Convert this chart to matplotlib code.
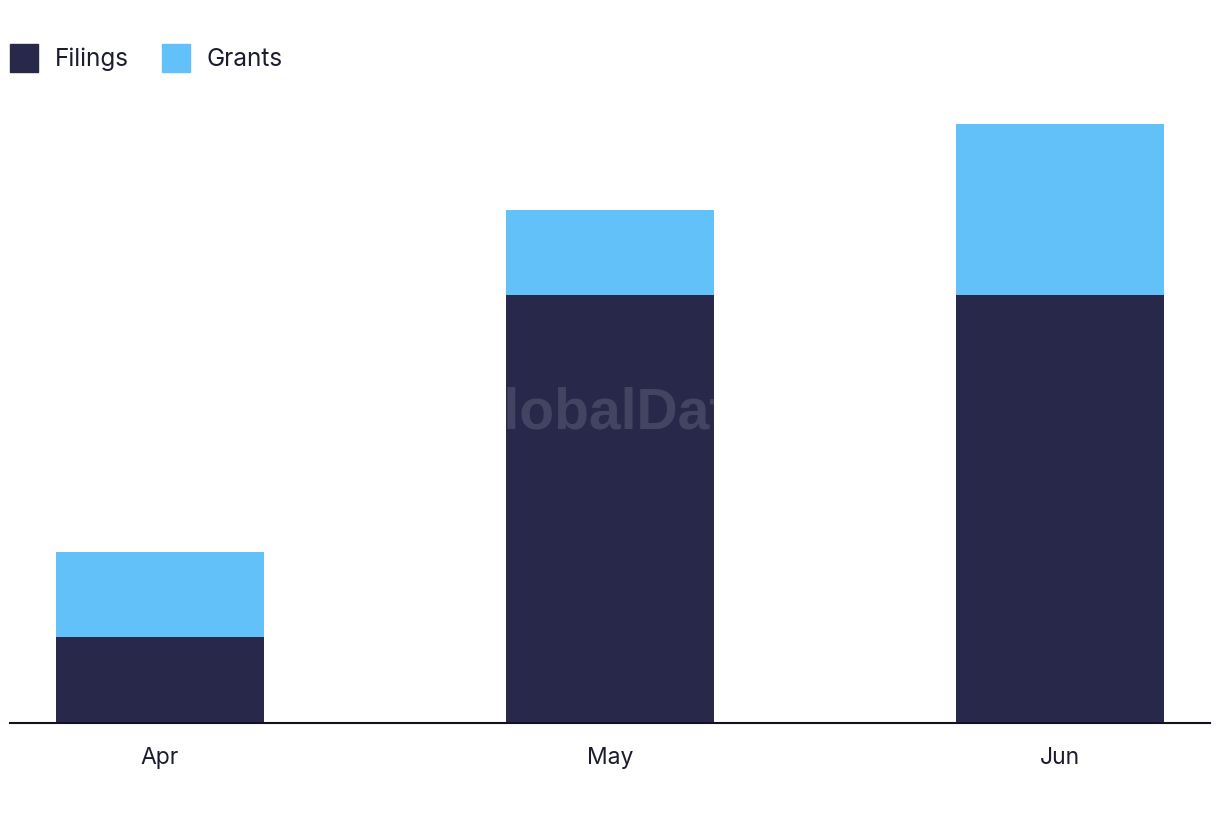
import matplotlib
matplotlib.use("Agg")
import matplotlib.pyplot as plt
from matplotlib.patches import Patch

# data
months = ["Apr", "May", "Jun"]
filings = [1, 5, 5]
grants = [1, 1, 2]

c_fil = "#28284b"
c_grant = "#62c1f8"
c_text = "#1c1c30"

plt.rcParams["font.family"] = ["Inter", "DejaVu Sans"]

fig = plt.figure(figsize=(12.2, 8.22), dpi=100)
ax = fig.add_axes([10 / 1220, 99 / 822, 1200 / 1220, 599 / 822])

x = range(len(months))
ax.bar(x, filings, width=0.462, color=c_fil, zorder=2)
ax.bar(x, grants, width=0.462, bottom=filings, color=c_grant, zorder=2)

ax.set_xlim(-0.333, 2.333)
ax.set_ylim(0, 7)
ax.set_xticks(list(x))
ax.set_xticklabels(months, fontsize=16.5, color=c_text)
ax.tick_params(axis="x", length=0, pad=17)
ax.set_yticks([])
for s in ["top", "right", "left"]:
    ax.spines[s].set_visible(False)
ax.spines["bottom"].set_color("#111122")
ax.spines["bottom"].set_linewidth(1.5)
ax.spines["bottom"].set_zorder(3)

# watermark
fig.text(610 / 1220, 1 - 413 / 822, "GlobalData", fontsize=41, fontweight="bold",
         family="Liberation Sans", color="white", alpha=0.13, ha="center", va="center",
         zorder=5)

handles = [Patch(color=c_fil, label="Filings"), Patch(color=c_grant, label="Grants")]
leg = fig.legend(handles=handles, loc="upper left", bbox_to_anchor=(10 / 1220, 1 - 44 / 822),
                 ncol=2, frameon=False, fontsize=17.5, handlelength=1.15, handleheight=1.4,
                 handletextpad=0.7, columnspacing=1.35, borderaxespad=0, borderpad=0)
for t in leg.get_texts():
    t.set_color(c_text)

fig.savefig("out.png", dpi=100)
